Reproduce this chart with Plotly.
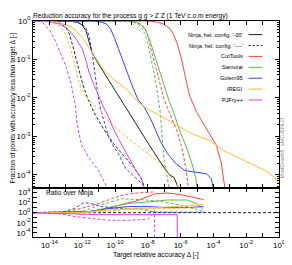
import numpy as np
import plotly.graph_objects as go

# ---- data: log10(target accuracy) and log10(fraction of points) ----
ninja_s_x = [-15, -12.79, -12.31, -12.01, -11.77, -11.59, -11.41, -11.00, -10.40, -9.80, -9.20, -8.42, -7.71, -6.99, -6.69, -6.39, -6.09]
ninja_s_y = [0, 0, -0.03, -0.10, -0.25, -0.51, -0.81, -1.12, -1.53, -1.96, -2.37, -2.88, -3.36, -3.82, -3.99, -4.07, -4.40]
ninja_d_x = [-15, -13.98, -13.51, -13.21, -12.97, -12.79, -12.61, -12.43, -12.25, -12.01, -11.71, -11.29, -10.70, -10.10, -9.50, -8.91, -8.42, -8.13]
ninja_d_y = [0, 0, -0.03, -0.08, -0.18, -0.33, -0.59, -0.89, -1.20, -1.58, -1.96, -2.37, -2.80, -3.18, -3.49, -3.77, -4.07, -4.40]
ct_s_x = [-15, -8.01, -7.41, -7.05, -6.69, -6.45, -6.21, -5.97, -5.74, -5.44, -5.02, -4.60, -4.24, -3.82, -3.52, -3.28]
ct_s_y = [0, 0, -0.03, -0.08, -0.18, -0.33, -0.59, -0.94, -1.40, -1.96, -2.37, -2.67, -2.93, -3.23, -3.69, -4.40]
ct_d_x = [-15, -9.20, -8.72, -8.42, -8.19, -8.01, -7.83, -7.59, -7.29, -6.99, -6.69, -6.45, -6.21, -5.91, -5.68, -5.50]
ct_d_y = [0, 0, -0.03, -0.08, -0.18, -0.36, -0.69, -1.09, -1.60, -2.06, -2.37, -2.62, -2.88, -3.31, -3.82, -4.40]
sam_s_x = [-15, -9.20, -8.72, -8.42, -8.13, -7.89, -7.59, -7.29, -6.99, -6.69, -6.39, -6.03, -5.62, -5.32, -5.08, -4.96]
sam_s_y = [0, 0, -0.03, -0.10, -0.23, -0.48, -0.89, -1.30, -1.73, -2.09, -2.42, -2.88, -3.31, -3.69, -4.07, -4.40]
sam_d_x = [-15, -9.50, -8.91, -8.60, -8.37, -8.19, -8.01, -7.83, -7.65, -7.47, -7.35, -7.23, -7.17, -7.11, -6.99, -6.81, -6.69]
sam_d_y = [0, 0, -0.03, -0.08, -0.18, -0.33, -0.56, -0.89, -1.27, -1.70, -2.04, -2.42, -2.80, -3.18, -3.69, -4.07, -4.40]
gol_s_x = [-15, -11.29, -10.82, -10.52, -10.28, -10.04, -9.80, -9.50, -9.20, -8.91, -8.60, -8.19, -7.83, -7.53, -7.23, -6.81, -6.33, -5.74, -5.02, -4.42, -4.12, -4.00]
gol_s_y = [0, 0, -0.03, -0.08, -0.20, -0.43, -0.71, -1.07, -1.40, -1.73, -2.04, -2.26, -2.54, -2.85, -3.13, -3.44, -3.69, -3.89, -3.94, -3.97, -4.10, -4.40]
gol_d_x = [-15, -12.79, -12.31, -12.01, -11.77, -11.59, -11.41, -11.29, -11.17, -11.05, -10.88, -10.64, -10.40, -10.10, -9.80, -9.38, -8.78, -8.19, -8.07]
gol_d_y = [0, 0, -0.03, -0.08, -0.18, -0.38, -0.76, -1.15, -1.53, -1.91, -2.29, -2.67, -3.00, -3.26, -3.44, -3.82, -4.07, -4.30, -4.40]
ire_s_x = [-15, -13.98, -13.51, -13.09, -12.67, -12.31, -11.95, -11.59, -11.23, -10.82, -10.40, -9.80, -9.20, -8.60, -8.01, -7.41, -6.81, -6.21, -5.32, -4.24, -3.40, -2.45, -1.61, -0.83, -0.24, 0]
ire_s_y = [0, 0, -0.03, -0.08, -0.15, -0.28, -0.46, -0.69, -0.94, -1.20, -1.40, -1.60, -1.81, -2.11, -2.29, -2.42, -2.57, -2.72, -2.93, -3.10, -3.36, -3.56, -3.74, -3.89, -4.07, -4.25]
ire_d_x = [-15, -14.28, -13.80, -13.39, -13.09, -12.91, -12.73, -12.55, -12.37, -12.19, -11.95, -11.59, -11.00, -10.22, -9.20, -8.19, -7.41, -6.81, -6.21, -6.09]
ire_d_y = [0, 0, -0.05, -0.13, -0.28, -0.46, -0.69, -0.97, -1.27, -1.60, -1.86, -2.06, -2.29, -2.67, -3.05, -3.38, -3.64, -3.94, -4.25, -4.40]
pjf_s_x = [-15, -14.28, -13.80, -13.39, -12.97, -12.61, -12.31, -12.01, -11.77, -11.59, -11.29, -11.00, -10.70, -10.40, -10.10, -9.80, -9.38, -9.02, -8.72, -8.42, -8.19]
pjf_s_y = [0, 0, -0.03, -0.08, -0.18, -0.33, -0.51, -0.71, -1.02, -1.32, -1.65, -1.96, -2.24, -2.49, -2.80, -3.05, -3.38, -3.69, -3.89, -4.07, -4.40]
pjf_d_x = [-15, -14.70, -14.46, -14.28, -13.98, -13.69, -13.27, -12.97, -12.67, -12.43, -12.31, -12.07, -11.59, -11.00, -10.40]
pjf_d_y = [0, 0, -0.03, -0.10, -0.25, -0.46, -0.89, -1.20, -1.65, -2.16, -2.67, -3.18, -3.56, -3.89, -4.40]

# ratio panel: log10(target accuracy), log10(ratio over Ninja)
r_ninja_x = [-15, 0]
r_ninja_y = [0, 0]
r_ct_s_x = [-15, -12.19, -11.0, -9.80, -8.60, -7.59, -6.81, -5.91, -5.02, -4.60]
r_ct_s_y = [0, 0, 0.44, 1.40, 2.40, 3.70, 3.90, 3.50, 2.90, 2.60]
r_ct_d_x = [-15, -12.79, -11.89, -11.0, -10.22, -9.50, -8.60, -7.59]
r_ct_d_y = [0, 0.25, 1.0, 1.8, 2.75, 3.5, 3.9, 4.1]
r_sam_s_x = [-15, -11.59, -10.40, -9.20, -8.01, -6.81, -5.62, -5.02, -4.60]
r_sam_s_y = [0, 0.2, 1.0, 1.8, 2.1, 2.5, 2.5, 1.8, 0.5]
r_sam_d_x = [-15, -12.19, -11.0, -9.62, -8.31, -7.11, -5.91, -4.72]
r_sam_d_y = [0, 0, 1.4, 2.75, 2.55, 2.2, 1.4, 0.4]
r_gol_s_x = [-15, -11.59, -10.40, -9.20, -8.01, -6.81, -5.62, -4.60]
r_gol_s_y = [0, 0.2, 0.8, 1.2, 1.2, 1.0, 1.0, 1.2]
r_gol_d_x = [-15, -13.39, -12.49, -11.89, -11.47, -10.82, -9.62, -8.43, -7.59, -6.21, -4.60]
r_gol_d_y = [0, 0, 0.8, 2.0, 1.8, 1.2, 0.8, 0.8, 0.1, 0.1, 0.1]
r_ire_s_x = [-15, -12.19, -11.0, -9.20, -7.41, -5.62, -4.60]
r_ire_s_y = [0, 0, 0.4, 0.8, 1.0, 1.4, 1.6]
r_ire_d_x = [-15, -12.19, -11.0, -9.20, -7.41, -5.62, -4.60]
r_ire_d_y = [0, 0, 0.2, 0.6, 0.8, 1.0, 1.0]
r_pjf_s_x = [-15, -12.19, -11.0, -8.60, -6.21, -6.20]
r_pjf_s_y = [0, -0.2, -0.4, -0.4, -0.4, -6]
r_pjf_d_x = [-15, -13.39, -12.49, -11.59, -10.40, -9.20, -8.01, -7.71, -7.59, -7.58]
r_pjf_d_y = [0, -0.2, -0.75, -1.1, -1.5, -1.5, -1.3, -0.4, 0.4, -6]

BLACK = "#222222"
RED = "#ff4444"
GREEN = "#55bb55"
BLUE = "#3344ee"
YELLOW = "#ffbb33"
MAG = "#cc44ff"
DASH = "3px,2px"

top = [
    (ninja_s_x, ninja_s_y, BLACK, "solid"),
    (ninja_d_x, ninja_d_y, BLACK, DASH),
    (ct_s_x, ct_s_y, RED, "solid"),
    (ct_d_x, ct_d_y, RED, DASH),
    (sam_s_x, sam_s_y, GREEN, "solid"),
    (sam_d_x, sam_d_y, GREEN, DASH),
    (gol_s_x, gol_s_y, BLUE, "solid"),
    (gol_d_x, gol_d_y, BLUE, DASH),
    (ire_s_x, ire_s_y, YELLOW, "solid"),
    (ire_d_x, ire_d_y, YELLOW, DASH),
    (pjf_s_x, pjf_s_y, MAG, "solid"),
    (pjf_d_x, pjf_d_y, MAG, DASH),
]
bottom = [
    (r_ninja_x, r_ninja_y, BLACK, DASH),
    (r_ct_s_x, r_ct_s_y, RED, "solid"),
    (r_ct_d_x, r_ct_d_y, RED, DASH),
    (r_sam_s_x, r_sam_s_y, GREEN, "solid"),
    (r_sam_d_x, r_sam_d_y, GREEN, DASH),
    (r_gol_s_x, r_gol_s_y, BLUE, "solid"),
    (r_gol_d_x, r_gol_d_y, BLUE, DASH),
    (r_ire_s_x, r_ire_s_y, YELLOW, "solid"),
    (r_ire_d_x, r_ire_d_y, YELLOW, DASH),
    (r_pjf_s_x, r_pjf_s_y, MAG, "solid"),
    (r_pjf_d_x, r_pjf_d_y, MAG, DASH),
]

fig = go.Figure()
for xs, ys, c, d in top:
    fig.add_trace(go.Scatter(x=10 ** np.array(xs, float), y=10 ** np.array(ys, float), mode="lines",
                             line=dict(color=c, width=1, dash=d), xaxis="x", yaxis="y", showlegend=False))
for xs, ys, c, d in bottom:
    fig.add_trace(go.Scatter(x=10 ** np.array(xs, float), y=10 ** np.array(ys, float), mode="lines",
                             line=dict(color=c, width=1, dash=d), xaxis="x2", yaxis="y2", showlegend=False))

FONT = "Liberation Sans, Arial, sans-serif"
xt = [10.0 ** k for k in range(-15, 1)]
xl = ["" if k % 2 else "10<sup>%d</sup>" % k for k in range(-15, 1)]
yt = [10.0 ** k for k in range(-4, 1)]
ylab = ["10<sup>%d</sup>" % k for k in range(-4, 1)]
rt = [10.0 ** k for k in range(-4, 5)]
rl = ["" if k % 2 else "10<sup>%d</sup>" % k for k in range(-4, 5)]

axis_common = dict(type="log", showline=True, linecolor="black", linewidth=1, mirror="allticks",
                   ticks="inside", ticklen=4, tickcolor="black", showgrid=False, zeroline=False,
                   tickfont=dict(size=8, family=FONT, color="black"))
split = 50 / 222
# the page body adds an 8px offset, so the figure is 8px smaller with margins shifted accordingly
# (plot box on the page: x 33..284, y 15..237)
fig.update_layout(
    width=284, height=257, margin=dict(l=25, r=8, t=7, b=28),
    paper_bgcolor="white", plot_bgcolor="white", font=dict(family=FONT, color="black"),
    xaxis=dict(axis_common, domain=[0, 1], anchor="y", range=[-15, 0], tickvals=xt, ticktext=xl,
               showticklabels=False),
    yaxis=dict(axis_common, domain=[split, 1], anchor="x", range=[-4.35, 0], tickvals=yt, ticktext=ylab,
               minor=dict(ticks="inside", ticklen=2, tickcolor="black", dtick="D1")),
    xaxis2=dict(axis_common, domain=[0, 1], anchor="y2", range=[-15, 0], tickvals=xt, ticktext=xl),
    yaxis2=dict(axis_common, domain=[0, split], anchor="x2", range=[-4.8, 4.8], tickvals=rt, ticktext=rl),
)

# helpers converting page pixel positions to paper coords
def px(x):
    return (x - 33) / 251

def py(y):
    return (237 - y) / 222

ann = []
ann.append(dict(text="Reduction accuracy for the process g g > Z Z (1 TeV c.o.m energy)", x=px(32), y=py(14.5),
                xref="paper", yref="paper", xanchor="left", yanchor="bottom", showarrow=False, borderpad=0,
                font=dict(size=6.6, family=FONT)))
ann.append(dict(text="Fraction of points with accuracy less than target Δ [-]", x=px(12.5), y=py(104),
                xref="paper", yref="paper", xanchor="center", yanchor="middle", textangle=-90,
                showarrow=False, borderpad=0, font=dict(size=6.5, family=FONT)))
ann.append(dict(text="Target relative accuracy Δ [-]", x=px(158), y=py(255), xref="paper", yref="paper",
                xanchor="center", yanchor="middle", showarrow=False, font=dict(size=6.8, family=FONT)))
ann.append(dict(text="Ratio over Ninja", x=px(44), y=py(192), xref="paper", yref="paper",
                xanchor="left", yanchor="middle", showarrow=False, font=dict(size=6.6, family=FONT)))
ann.append(dict(text="MadGraph5_aMC@NLO", x=px(288), y=py(145), xref="paper", yref="paper",
                xanchor="center", yanchor="middle", textangle=-90, showarrow=False,
                font=dict(size=5.5, family=FONT, color="#888888")))

legend_names = ["Ninja, hel. config. '-00'", "Ninja, hel. config. '----'", "CutTools", "Samurai",
                "Golem95", "IREGI", "PJFry++"]
legend_styles = [(BLACK, "solid"), (BLACK, DASH), (RED, "solid"), (GREEN, "solid"),
                 (BLUE, "solid"), (YELLOW, "solid"), (MAG, "solid")]
shapes = []
for i, (name, (c, d)) in enumerate(zip(legend_names, legend_styles)):
    yy = 29 + 11.2 * i
    ann.append(dict(text=name, x=px(249), y=py(yy), xref="paper", yref="paper", xanchor="right",
                    yanchor="middle", showarrow=False, font=dict(size=5.6, family=FONT)))
    shapes.append(dict(type="line", xref="paper", yref="paper", x0=px(253), x1=px(267), y0=py(yy), y1=py(yy),
                       line=dict(color=c, width=1, dash="2px,2px" if d != "solid" else "solid")))
fig.update_layout(annotations=ann, shapes=shapes)
fig.write_html("out.html")
